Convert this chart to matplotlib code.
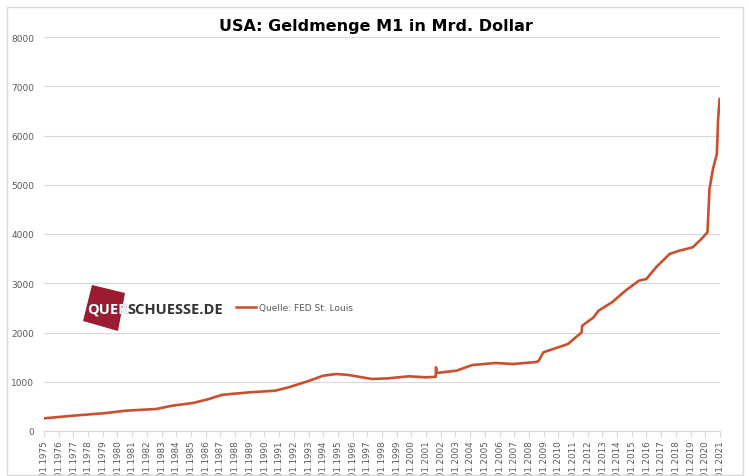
import matplotlib
matplotlib.use("Agg")
import matplotlib.pyplot as plt
from matplotlib.patches import Polygon, Rectangle
from matplotlib.lines import Line2D
import pandas as pd

# M1 in Mrd. Dollar
dates = ["1975-01-06", "1977-01-01", "1979-04-01", "1980-08-01", "1982-09-01",
         "1983-10-01", "1985-03-01", "1986-04-01", "1987-02-01", "1987-09-01",
         "1988-04-01", "1989-01-01", "1990-10-01", "1991-09-01", "1993-02-01",
         "1994-01-01", "1994-12-01", "1995-10-01", "1996-09-01", "1997-05-01",
         "1998-06-01", "1999-11-01", "2001-01-01", "2001-09-03", "2001-09-10",
         "2001-09-24", "2001-10-15", "2003-02-01", "2004-03-01", "2005-10-01",
         "2006-12-01", "2008-07-01", "2008-09-01", "2008-12-29", "2010-09-01",
         "2011-05-01", "2011-08-08", "2011-08-22", "2012-06-01", "2012-10-01",
         "2013-09-01", "2014-08-01", "2015-07-01", "2016-01-01", "2016-09-01",
         "2017-08-01", "2018-04-01", "2019-03-01", "2019-10-01", "2020-03-01",
         "2020-04-20", "2020-07-15", "2020-10-20", "2020-11-20", "2020-12-28"]
values = [257, 311, 365, 413, 447,
          514, 569, 650, 731, 750,
          765, 785, 819, 887, 1022,
          1123, 1157, 1137, 1090, 1056,
          1069, 1110, 1090, 1100, 1293,
          1191, 1180, 1225, 1340, 1381,
          1360, 1400, 1420, 1597, 1766,
          1935, 2000, 2138, 2308, 2443,
          2613, 2849, 3052, 3086, 3324,
          3594, 3661, 3730, 3898, 4034,
          4914, 5320, 5624, 6335, 6741]
tick_years = list(range(1975, 2022))
yticks = [0, 1000, 2000, 3000, 4000, 5000, 6000, 7000, 8000]

x = pd.to_datetime(dates)
tick_dates = pd.to_datetime([f"{y}-01-06" for y in tick_years])
tick_labels = [f"06.01.{y}" for y in tick_years]

fig = plt.figure(figsize=(7.49, 4.77), dpi=100)
ax = fig.add_axes([44 / 749, 1 - 432 / 477, (720 - 44) / 749, (432 - 38) / 477])

ax.plot(x, values, color="#C9502E", lw=1.9, solid_joinstyle="round")

ax.set_ylim(0, 8000)
ax.set_yticks(yticks)
ax.set_xlim(tick_dates[0], tick_dates[-1])
ax.set_xticks(tick_dates)
ax.set_xticklabels(tick_labels, rotation=90, fontsize=6.3, color="#595959")
ax.tick_params(axis="y", labelsize=6.5, labelcolor="#595959", length=0, pad=7)
ax.tick_params(axis="x", length=4, color="#d9d9d9", pad=2)
ax.grid(axis="y", color="#d9d9d9", lw=0.8)
ax.set_axisbelow(True)
for s in ["left", "right", "top"]:
    ax.spines[s].set_visible(False)
ax.spines["bottom"].set_color("#d9d9d9")

fig.text(376 / 749, 1 - 26 / 477, "USA: Geldmenge M1 in Mrd. Dollar",
         ha="center", va="center", fontsize=11.5, fontweight="bold", color="black")

# chart border
fig.patches.append(Rectangle((7 / 749, 1 - 476 / 477), 736 / 749, 468 / 477,
                             transform=fig.transFigure, fill=False,
                             edgecolor="#d9d9d9", lw=1))

# logo: red rotated square, "QUER" white where it lies on the red
corners = [(92, 286), (125, 294), (118, 332), (83, 322)]
logo = Polygon([(cx / 749, 1 - cy / 477) for cx, cy in corners],
               closed=True, transform=fig.transFigure,
               facecolor="#9B1B30", edgecolor="none")
fig.patches.append(logo)
fig.text(87 / 749, 1 - 310 / 477, "QUER", ha="left", va="center",
         fontsize=10.5, fontweight="bold", color="#333333", family="Open Sans")
t = fig.text(87 / 749, 1 - 310 / 477, "QUER", ha="left", va="center",
             fontsize=10.5, fontweight="bold", color="white", family="Open Sans")
t.set_clip_path(logo)
fig.canvas.draw()
bb = t.get_window_extent()
fig.text(bb.x1 / 749, 1 - 310 / 477, "SCHUESSE.DE", ha="left", va="center",
         fontsize=10.5, fontweight="bold", color="#333333", family="Open Sans")

# legend
fig.lines.append(Line2D([236 / 749, 256 / 749], [1 - 308 / 477, 1 - 308 / 477],
                        transform=fig.transFigure, color="#C9502E", lw=1.8))
fig.text(259 / 749, 1 - 308 / 477, "Quelle: FED St. Louis", ha="left", va="center",
         fontsize=6.5, color="#595959")

fig.savefig("out.png", dpi=100)
